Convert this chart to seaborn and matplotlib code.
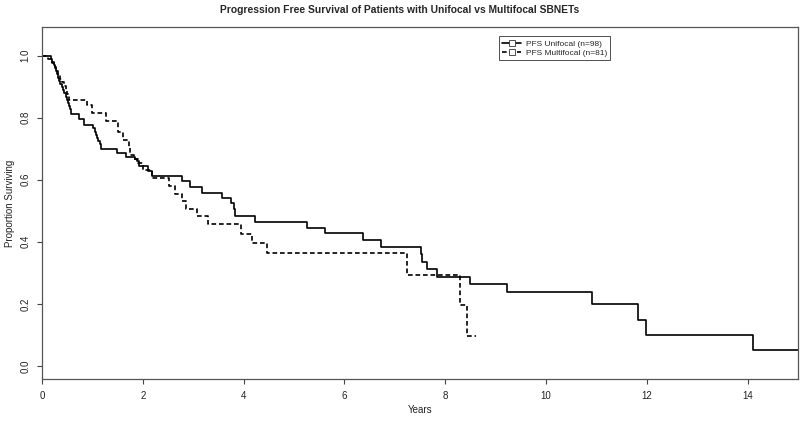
import matplotlib
matplotlib.use("Agg")
import pandas as pd
import seaborn as sns
import matplotlib.pyplot as plt
from matplotlib.lines import Line2D
from matplotlib.legend_handler import HandlerLine2D

# step curves (time in years, proportion surviving)
uni_time = [0, 0.17, 0.20, 0.23, 0.26, 0.28, 0.30, 0.32, 0.34, 0.36, 0.39,
            0.42, 0.44, 0.47, 0.50, 0.52, 0.54, 0.56, 0.58, 0.74, 0.84,
            1.02, 1.05, 1.08, 1.10, 1.12, 1.15, 1.18, 1.48, 1.67, 1.85,
            1.88, 1.93, 2.11, 2.18, 2.77, 2.94, 3.17, 3.57, 3.75, 3.80,
            3.83, 4.23, 5.26, 5.62, 6.37, 6.73, 7.51, 7.53, 7.63, 7.84,
            8.49, 9.23, 10.92, 11.82, 11.99, 14.11, 15.2]
uni_surv = [1.0, 0.990, 0.980, 0.969, 0.959, 0.949, 0.939, 0.929, 0.918, 0.908, 0.898,
            0.888, 0.878, 0.867, 0.857, 0.847, 0.837, 0.827, 0.812, 0.796, 0.775,
            0.765, 0.755, 0.745, 0.735, 0.724, 0.714, 0.700, 0.686, 0.673, 0.666,
            0.659, 0.643, 0.627, 0.611, 0.595, 0.576, 0.558, 0.540, 0.526, 0.505,
            0.484, 0.465, 0.446, 0.428, 0.406, 0.383, 0.360, 0.336, 0.312, 0.288,
            0.264, 0.238, 0.199, 0.149, 0.099, 0.050, 0.050]

multi_time = [0, 0.12, 0.20, 0.25, 0.28, 0.32, 0.36, 0.40, 0.44, 0.48, 0.50,
              0.53, 0.90, 1.00, 1.26, 1.50, 1.60, 1.73, 1.75, 1.82, 1.90,
              2.00, 2.18, 2.51, 2.64, 2.77, 2.85, 3.07, 3.30, 3.94, 4.16,
              4.47, 7.24, 8.29, 8.43, 8.62]
multi_surv = [1.0, 0.988, 0.975, 0.963, 0.951, 0.938, 0.926, 0.914, 0.901, 0.889, 0.877,
              0.858, 0.840, 0.815, 0.790, 0.753, 0.728, 0.704, 0.679, 0.667, 0.654,
              0.630, 0.605, 0.580, 0.555, 0.530, 0.506, 0.482, 0.457, 0.425, 0.396,
              0.363, 0.294, 0.196, 0.098, 0.098]

labels = ["PFS Unifocal (n=98)", "PFS Multifocal (n=81)"]
x_ticks = [0, 2, 4, 6, 8, 10, 12, 14]
y_ticks = [0.0, 0.2, 0.4, 0.6, 0.8, 1.0]

df_uni = pd.DataFrame({"Years": uni_time, "Surv": uni_surv})
df_multi = pd.DataFrame({"Years": multi_time, "Surv": multi_surv})


class SquareFirst(HandlerLine2D):
    # R style legend key: open square at the left end of the line
    def get_xdata(self, legend, xdescent, ydescent, width, height, fontsize):
        xdata, _ = super().get_xdata(legend, xdescent, ydescent, width, height, fontsize)
        return [xdata[0], xdata[-1]], [xdata[0]]


def main():
    sns.set_theme(style="ticks")
    plt.rcParams["font.family"] = ["Liberation Sans", "DejaVu Sans"]

    fig = plt.figure(figsize=(8, 4.22), dpi=100)
    ax = fig.add_axes([0.0525, 0.102, 0.945, 0.834])

    dash = (0, (2.8, 1.7))
    sns.lineplot(data=df_uni, x="Years", y="Surv", ax=ax, color="black",
                 lw=1.2, drawstyle="steps-post", estimator=None, sort=False)
    sns.lineplot(data=df_multi, x="Years", y="Surv", ax=ax, color="black",
                 lw=1.2, linestyle=dash, drawstyle="steps-post", estimator=None, sort=False)

    ax.set_xlim(0, 15)
    ax.set_ylim(-0.042, 1.092)
    ax.set_xticks(x_ticks)
    ax.set_yticks(y_ticks)
    ax.set_xticklabels([str(t) for t in x_ticks])
    ax.set_yticklabels([f"{t:.1f}" for t in y_ticks], rotation=90, va="center")
    ax.tick_params(labelsize=7, length=3.5, width=0.8, color="#444444",
                   labelcolor="#222222", pad=5)

    for s in ax.spines.values():
        s.set_visible(True)
        s.set_color("#555555")
        s.set_linewidth(0.9)

    ax.set_xlabel("Years", fontsize=7, color="#222222", labelpad=3)
    ax.set_ylabel("Proportion Surviving", fontsize=7, color="#222222", labelpad=4)
    fig.suptitle("Progression Free Survival of Patients with Unifocal vs Multifocal SBNETs",
                 fontsize=7.4, fontweight="bold", y=0.987, x=0.5)

    handles = [
        Line2D([], [], color="black", lw=1.2, marker="s", markersize=4,
               markerfacecolor="white", markeredgecolor="#333333", markeredgewidth=0.6),
        Line2D([], [], color="black", lw=1.2, linestyle=dash, marker="s", markersize=4,
               markerfacecolor="white", markeredgecolor="#333333", markeredgewidth=0.6),
    ]
    leg = ax.legend(handles, labels, loc="upper left", bbox_to_anchor=(0.599, 0.985),
                    fontsize=6, frameon=True, fancybox=False, handlelength=2.2,
                    handletextpad=0.6, borderpad=0.4, labelspacing=0.15,
                    handler_map={Line2D: SquareFirst(numpoints=1)})
    leg.get_frame().set_edgecolor("black")
    leg.get_frame().set_linewidth(0.6)

    plt.savefig("out.png", dpi=100)


if __name__ == "__main__":
    main()
